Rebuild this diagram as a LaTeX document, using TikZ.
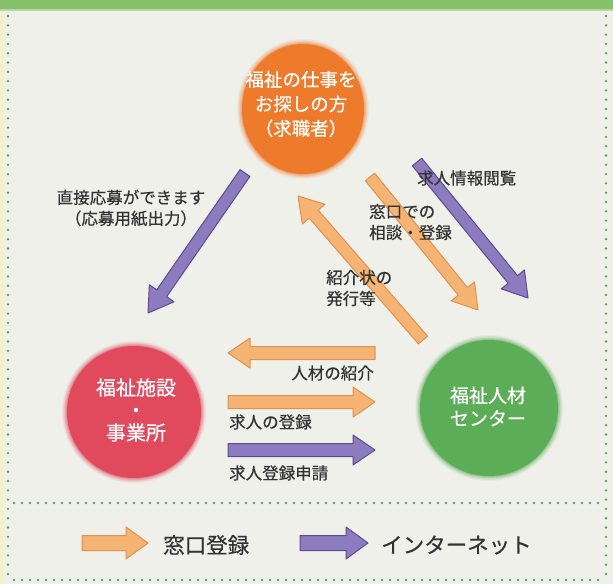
\documentclass[tikz,border=0pt]{standalone}
\usepackage{fontspec}
\setmainfont{Noto Sans CJK JP}[FakeBold=0.45]
\usetikzlibrary{calc,shapes.geometric}
\definecolor{bgc}{HTML}{EFF0EA}
\definecolor{ylw}{HTML}{F3F1C9}
\definecolor{topbar}{HTML}{86C26C}
\definecolor{dotc}{HTML}{5E9C48}
\definecolor{ocirc}{HTML}{EE7A2B}
\definecolor{rcirc}{HTML}{E04A5C}
\definecolor{gcirc}{HTML}{5CAD57}
\definecolor{afill}{HTML}{F5B473}
\definecolor{aedge}{HTML}{E0914E}
\definecolor{pfill}{HTML}{8C7CBF}
\definecolor{pedge}{HTML}{5E4B92}
\definecolor{txt}{HTML}{333333}
% fat block arrow: from, to, style, shaft half width, head half width, head length
\newcommand\fatarrow[6]{%
  \coordinate (fh) at ($(#2)!#6!(#1)$);
  \draw[#3] ($(#1)!#4!90:(#2)$) -- ($(fh)!#4!-90:(#1)$) -- ($(fh)!#5!-90:(#1)$)
    -- (#2) -- ($(fh)!#5!90:(#1)$) -- ($(fh)!#4!90:(#1)$) -- ($(#1)!#4!-90:(#2)$) -- cycle;}
% soft edge halo: centre, colour, x radius, y radius
\newcommand\softedge[4]{%
  \foreach \dd/\op in {5/.08,4/.1,3/.14,2/.2,1/.3} {%
    \fill[#2, opacity=\op] (#1) ellipse [x radius=#3+\dd, y radius=#4+\dd];}}
\begin{document}
\begin{tikzpicture}[x=1pt,y=-1pt,
  lbl/.style={font=\fontsize{16.5}{21}\selectfont, text=txt, inner sep=0pt},
  legtxt/.style={font=\fontsize{21.5}{24}\selectfont, text=txt, inner sep=0pt},
  circtxt/.style={text=white, align=center, inner sep=0pt},
  oarr/.style={fill=afill, draw=aedge, line width=1pt, line join=round},
  parr/.style={fill=pfill, draw=pedge, line width=1pt, line join=round}]
\useasboundingbox (0,0) rectangle (613,584);
\fill[bgc] (0,0) rectangle (613,584);
\fill[ylw] (0,0) rectangle (4,584);
\fill[topbar] (0,0) rectangle (613,9);
\fill[topbar!55!bgc] (0,9) rectangle (613,11);
% dotted borders
\foreach \yy in {16,25.3,...,578} {\fill[dotc] (8,\yy) circle (1.3); \fill[dotc] (606,\yy) circle (1.3);}
\foreach \xx in {14,22,...,602} {\fill[dotc] (\xx,503) circle (1.3); \fill[dotc] (\xx,580) circle (1.3);}
% circles with soft edges
\softedge{303,109}{ocirc}{61}{65}
\softedge{134,412}{rcirc}{67}{66}
\softedge{489,408}{gcirc}{69}{68}
\node[ellipse, fill=ocirc, minimum width=122pt, minimum height=130pt, inner sep=0pt] (job) at (303,109) {};
\node[ellipse, fill=rcirc, minimum width=134pt, minimum height=132pt, inner sep=0pt] (fac) at (134,412) {};
\node[ellipse, fill=gcirc, minimum width=138pt, minimum height=136pt, inner sep=0pt] (cen) at (489,408) {};
\node[circtxt, font=\fontsize{18.5}{24.5}\selectfont] (jobt) at (301,104) {福祉の仕事を\\お探しの方\\（求職者）};
\node[circtxt, font=\fontsize{20}{22.5}\selectfont] (fact) at (136,410) {福祉施設\\・\\事業所};
\node[circtxt, font=\fontsize{19}{23}\selectfont] (cent) at (488,406.5) {福祉人材\\センター};
% arrow end points
\coordinate (a1s) at (245,173); \coordinate (a1e) at (148,313);
\coordinate (a2s) at (370,177); \coordinate (a2e) at (478,310);
\coordinate (a3s) at (417,162); \coordinate (a3e) at (528,298);
\coordinate (a4s) at (423,340); \coordinate (a4e) at (298,196);
\coordinate (a5s) at (375,353); \coordinate (a5e) at (228,353);
\coordinate (a6s) at (228,402); \coordinate (a6e) at (375,402);
\coordinate (a7s) at (228,450); \coordinate (a7e) at (375,450);
\coordinate (l1s) at (82,543); \coordinate (l1e) at (148,543);
\coordinate (l2s) at (300,543); \coordinate (l2e) at (368,543);
\fatarrow{a1s}{a1e}{parr}{6pt}{15pt}{24pt}
\fatarrow{a2s}{a2e}{oarr}{6pt}{15pt}{24pt}
\fatarrow{a3s}{a3e}{parr}{6pt}{15pt}{24pt}
\fatarrow{a4s}{a4e}{oarr}{6pt}{15pt}{24pt}
\fatarrow{a5s}{a5e}{oarr}{6.5pt}{15pt}{22pt}
\fatarrow{a6s}{a6e}{oarr}{6.5pt}{15pt}{22pt}
\fatarrow{a7s}{a7e}{parr}{6.5pt}{15pt}{22pt}
\fatarrow{l1s}{l1e}{oarr}{7.5pt}{16pt}{22pt}
\fatarrow{l2s}{l2e}{parr}{7.5pt}{16pt}{22pt}
% labels
\node[lbl, align=center] (t1) at (131,208) {直接応募ができます\\（応募用紙出力）};
\node[lbl, anchor=west] (t3) at (417,178) {求人情報閲覧};
\node[lbl, align=left, anchor=west] (t2) at (369,222) {窓口での\\相談・登録};
\node[lbl, align=left, anchor=west] (t4) at (326,288) {紹介状の\\発行等};
\node[lbl, anchor=east] (t5) at (374,373) {人材の紹介};
\node[lbl, anchor=west] (t6) at (229,422) {求人の登録};
\node[lbl, anchor=west] (t7) at (229,473) {求人登録申請};
\node[legtxt, anchor=west] (lg1) at (163,545) {窓口登録};
\node[legtxt, anchor=west] (lg2) at (381,545) {インターネット};
\end{tikzpicture}
\end{document}
